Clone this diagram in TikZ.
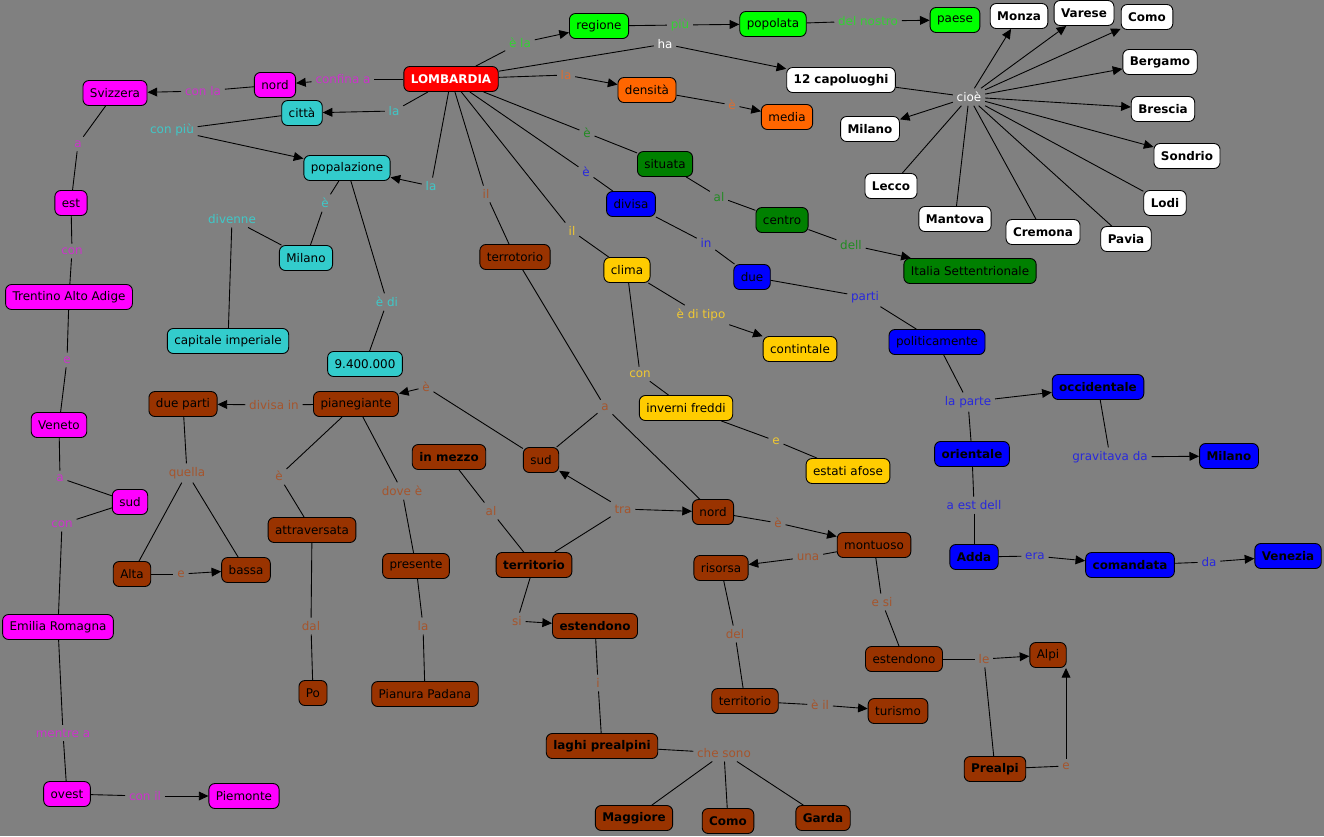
\documentclass[tikz,border=0pt]{standalone}
\usepackage{fontspec}
\setmainfont{DejaVu Sans}
\usepackage{xcolor}
\usepackage{tikz}
\usetikzlibrary{arrows.meta}

\definecolor{bggray}{RGB}{128,128,128}
% concept fills
\definecolor{cmMag}{RGB}{255,0,255}
\definecolor{cmCyan}{RGB}{51,204,204}
\definecolor{cmLime}{RGB}{0,255,0}
\definecolor{cmOrange}{RGB}{255,102,0}
\definecolor{cmGreen}{RGB}{0,128,0}
\definecolor{cmBlue}{RGB}{0,0,255}
\definecolor{cmYellow}{RGB}{255,204,0}
\definecolor{cmBrown}{RGB}{153,51,0}
\definecolor{cmRed}{RGB}{255,0,0}
% link words
\definecolor{lbMag}{RGB}{204,51,204}
\definecolor{lbCyan}{RGB}{64,200,200}
\definecolor{lbLime}{RGB}{51,210,51}
\definecolor{lbOrange}{RGB}{220,110,50}
\definecolor{lbGreen}{RGB}{34,139,34}
\definecolor{lbBlue}{RGB}{40,40,220}
\definecolor{lbYellow}{RGB}{240,200,50}
\definecolor{lbBrown}{RGB}{165,85,45}

\begin{document}
\begin{tikzpicture}[
    x=0.02cm,y=-0.02cm,
    txt/.style={font={\fontsize{6.8}{8}\selectfont}},
    concept/.style={txt,draw=black,line width=0.5pt,rounded corners=0.12cm,
        minimum height=0.5cm,inner xsep=0.14cm,inner ysep=1pt,text=black},
    strong/.style={font={\fontsize{6.8}{8}\selectfont\bfseries}},
    magbox/.style={concept,fill=cmMag},
    cyanbox/.style={concept,fill=cmCyan},
    limebox/.style={concept,fill=cmLime},
    orangebox/.style={concept,fill=cmOrange},
    whitebox/.style={concept,fill=white,strong},
    greenbox/.style={concept,fill=cmGreen},
    bluebox/.style={concept,fill=cmBlue},
    yellowbox/.style={concept,fill=cmYellow},
    brownbox/.style={concept,fill=cmBrown},
    redbox/.style={concept,fill=cmRed,strong,text=white},
    lbl/.style={txt,inner sep=2pt},
    maglbl/.style={lbl,text=lbMag},
    cyanlbl/.style={lbl,text=lbCyan},
    limelbl/.style={lbl,text=lbLime},
    whitelbl/.style={lbl,text=white},
    orangelbl/.style={lbl,text=lbOrange},
    greenlbl/.style={lbl,text=lbGreen},
    bluelbl/.style={lbl,text=lbBlue},
    yellowlbl/.style={lbl,text=lbYellow},
    brownlbl/.style={lbl,text=lbBrown},
    line/.style={draw=black,line width=0.5pt},
    arr/.style={line,-{Triangle[length=5.5pt,width=5pt]}},
    ]
    % Background
    \path[use as bounding box,fill=bggray] (0,0) rectangle (1324,836);

    % Main concept
    \node[redbox] (lomb) at (451,79) {LOMBARDIA};

    % Borders
    \node[magbox] (nordA) at (275,85) {nord};
    \node[magbox] (svizzera) at (115,93) {Svizzera};
    \node[magbox] (est) at (71,203) {est};
    \node[magbox] (trentino) at (69,297) {Trentino Alto Adige};
    \node[magbox] (veneto) at (59,425) {Veneto};
    \node[magbox] (sudA) at (130,502) {sud};
    \node[magbox] (emilia) at (58,627) {Emilia Romagna};
    \node[magbox] (ovest) at (67,794) {ovest};
    \node[magbox] (piemonte) at (244,796) {Piemonte};
    \node[maglbl] (lConfina) at (343,79) {confina a};
    \node[maglbl] (lConLa) at (203,91) {con la};
    \node[maglbl] (lA1) at (78,144) {a};
    \node[maglbl] (lCon1) at (72,251) {con};
    \node[maglbl] (lE1) at (67,360) {e};
    \node[maglbl] (lA2) at (60,478) {a};
    \node[maglbl] (lCon2) at (62,524) {con};
    \node[maglbl] (lMentre) at (63,733) {mentre a};
    \node[maglbl] (lConIl) at (145,796) {con il};
    \draw[line] (lomb) -- (lConfina);
    \draw[arr] (lConfina) -- (nordA);
    \draw[line] (nordA) -- (lConLa);
    \draw[arr] (lConLa) -- (svizzera);
    \draw[line] (svizzera) -- (lA1);
    \draw[line] (lA1) -- (est);
    \draw[line] (est) -- (lCon1);
    \draw[line] (lCon1) -- (trentino);
    \draw[line] (trentino) -- (lE1);
    \draw[line] (lE1) -- (veneto);
    \draw[line] (veneto) -- (lA2);
    \draw[line] (lA2) -- (sudA);
    \draw[line] (sudA) -- (lCon2);
    \draw[line] (lCon2) -- (emilia);
    \draw[line] (emilia) -- (lMentre);
    \draw[line] (lMentre) -- (ovest);
    \draw[line] (ovest) -- (lConIl);
    \draw[arr] (lConIl) -- (piemonte);

    % Cities and population
    \node[cyanbox] (citta) at (302,113) {città};
    \node[cyanbox] (popol) at (347,168) {popalazione};
    \node[cyanbox] (milanoC) at (306,258) {Milano};
    \node[cyanbox] (capitale) at (228,341) {capitale imperiale};
    \node[cyanbox] (abitanti) at (365,364) {9.400.000};
    \node[cyanlbl] (lLa1) at (394,111) {la};
    \node[cyanlbl] (lConPiu) at (172,130) {con più};
    \node[cyanlbl] (lLa2) at (431,186) {la};
    \node[cyanlbl] (lE2) at (325,203) {è};
    \node[cyanlbl] (lDivenne) at (232,219) {divenne};
    \node[cyanlbl] (lEDi) at (387,302) {è di};
    \draw[line] (lomb) -- (lLa1);
    \draw[arr] (lLa1) -- (citta);
    \draw[line] (citta) -- (lConPiu);
    \draw[arr] (lConPiu) -- (popol);
    \draw[line] (lomb) -- (lLa2);
    \draw[arr] (lLa2) -- (popol);
    \draw[line] (popol) -- (lE2);
    \draw[line] (lE2) -- (milanoC);
    \draw[line] (milanoC) -- (lDivenne);
    \draw[line] (lDivenne) -- (capitale);
    \draw[line] (popol) -- (lEDi);
    \draw[line] (lEDi) -- (abitanti);

    % Most populated region
    \node[limebox] (regione) at (599,26) {regione};
    \node[limebox] (popolata) at (773,24) {popolata};
    \node[limebox] (paese) at (955,20) {paese};
    \node[limelbl] (lELa) at (520,43) {è la};
    \node[limelbl] (lPiu) at (680,25) {più};
    \node[limelbl] (lDelNostro) at (868,21) {del nostro};
    \draw[line] (lomb) -- (lELa);
    \draw[arr] (lELa) -- (regione);
    \draw[line] (regione) -- (lPiu);
    \draw[arr] (lPiu) -- (popolata);
    \draw[line] (popolata) -- (lDelNostro);
    \draw[arr] (lDelNostro) -- (paese);

    % Density
    \node[orangebox] (densita) at (647,90) {densità};
    \node[orangebox] (media) at (787,117) {media};
    \node[orangelbl] (lLa3) at (566,75) {la};
    \node[orangelbl] (lE3) at (732,105) {è};
    \draw[line] (lomb) -- (lLa3);
    \draw[arr] (lLa3) -- (densita);
    \draw[line] (densita) -- (lE3);
    \draw[arr] (lE3) -- (media);

    % Provincial capitals
    \node[whitebox] (capoluoghi) at (841,80) {12 capoluoghi};
    \node[whitebox] (milanoW) at (870,129) {Milano};
    \node[whitebox] (monza) at (1019,16) {Monza};
    \node[whitebox] (varese) at (1084,13) {Varese};
    \node[whitebox] (comoW) at (1147,17) {Como};
    \node[whitebox] (bergamo) at (1160,62) {Bergamo};
    \node[whitebox] (brescia) at (1163,109) {Brescia};
    \node[whitebox] (sondrio) at (1187,156) {Sondrio};
    \node[whitebox] (lodi) at (1165,203) {Lodi};
    \node[whitebox] (pavia) at (1126,239) {Pavia};
    \node[whitebox] (cremona) at (1043,232) {Cremona};
    \node[whitebox] (mantova) at (955,219) {Mantova};
    \node[whitebox] (lecco) at (891,186) {Lecco};
    \node[whitelbl] (lHa) at (665,44) {ha};
    \node[whitelbl] (lCioe) at (969,97) {cioè};
    \draw[line] (lomb) -- (lHa);
    \draw[arr] (lHa) -- (capoluoghi);
    \draw[line] (capoluoghi) -- (lCioe);
    \foreach \city in {milanoW,monza,varese,comoW,bergamo,brescia,sondrio}
        \draw[arr] (lCioe) -- (\city);
    \foreach \city in {lecco,mantova,cremona,pavia,lodi}
        \draw[line] (lCioe) -- (\city);

    % Position
    \node[greenbox] (situata) at (665,164) {situata};
    \node[greenbox] (centro) at (782,220) {centro};
    \node[greenbox] (italia) at (970,271) {Italia Settentrionale};
    \node[greenlbl] (lE4) at (587,133) {è};
    \node[greenlbl] (lAl1) at (719,197) {al};
    \node[greenlbl] (lDell) at (851,245) {dell};
    \draw[line] (lomb) -- (lE4);
    \draw[line] (lE4) -- (situata);
    \draw[line] (situata) -- (lAl1);
    \draw[line] (lAl1) -- (centro);
    \draw[line] (centro) -- (lDell);
    \draw[arr] (lDell) -- (italia);

    % Political division
    \node[bluebox] (divisa) at (631,204) {divisa};
    \node[bluebox] (dueB) at (752,277) {due};
    \node[bluebox] (politic) at (937,342) {politicamente};
    \node[bluebox,strong] (occid) at (1098,387) {occidentale};
    \node[bluebox,strong] (orient) at (972,454) {orientale};
    \node[bluebox,strong] (milanoB) at (1229,456) {Milano};
    \node[bluebox,strong] (adda) at (974,557) {Adda};
    \node[bluebox,strong] (comand) at (1130,565) {comandata};
    \node[bluebox,strong] (venezia) at (1288,556) {Venezia};
    \node[bluelbl] (lE5) at (586,172) {è};
    \node[bluelbl] (lIn) at (706,243) {in};
    \node[bluelbl] (lParti) at (865,297) {parti};
    \node[bluelbl] (lLaParte) at (968,402) {la parte};
    \node[bluelbl] (lGravitava) at (1110,457) {gravitava da};
    \node[bluelbl] (lEstDell) at (974,505) {a est dell};
    \node[bluelbl] (lEra) at (1035,556) {era};
    \node[bluelbl] (lDa) at (1209,562) {da};
    \draw[line] (lomb) -- (lE5);
    \draw[line] (lE5) -- (divisa);
    \draw[line] (divisa) -- (lIn);
    \draw[line] (lIn) -- (dueB);
    \draw[line] (dueB) -- (lParti);
    \draw[line] (lParti) -- (politic);
    \draw[line] (politic) -- (lLaParte);
    \draw[arr] (lLaParte) -- (occid);
    \draw[line] (lLaParte) -- (orient);
    \draw[line] (occid) -- (lGravitava);
    \draw[arr] (lGravitava) -- (milanoB);
    \draw[line] (orient) -- (lEstDell);
    \draw[line] (lEstDell) -- (adda);
    \draw[line] (adda) -- (lEra);
    \draw[arr] (lEra) -- (comand);
    \draw[line] (comand) -- (lDa);
    \draw[arr] (lDa) -- (venezia);

    % Climate
    \node[yellowbox] (clima) at (627,270) {clima};
    \node[yellowbox] (contin) at (800,349) {contintale};
    \node[yellowbox] (inverni) at (686,408) {inverni freddi};
    \node[yellowbox] (estati) at (848,471) {estati afose};
    \node[yellowlbl] (lIl2) at (572,231) {il};
    \node[yellowlbl] (lDiTipo) at (701,315) {è di tipo};
    \node[yellowlbl] (lCon3) at (640,374) {con};
    \node[yellowlbl] (lE6) at (776,441) {e};
    \draw[line] (lomb) -- (lIl2);
    \draw[line] (lIl2) -- (clima);
    \draw[line] (clima) -- (lDiTipo);
    \draw[arr] (lDiTipo) -- (contin);
    \draw[line] (clima) -- (lCon3);
    \draw[line] (lCon3) -- (inverni);
    \draw[line] (inverni) -- (lE6);
    \draw[line] (lE6) -- (estati);

    % Territory
    \node[brownbox] (terrot) at (515,257) {terrotorio};
    \node[brownbox] (sudB) at (541,460) {sud};
    \node[brownbox,strong] (inMezzo) at (449,457) {in mezzo};
    \node[brownbox] (nordB) at (713,512) {nord};
    \node[brownbox] (pianeg) at (356,404) {pianegiante};
    \node[brownbox] (dueParti) at (183,404) {due parti};
    \node[brownbox] (attrav) at (312,530) {attraversata};
    \node[brownbox] (alta) at (132,574) {Alta};
    \node[brownbox] (bassa) at (246,570) {bassa};
    \node[brownbox] (po) at (313,693) {Po};
    \node[brownbox] (presente) at (416,566) {presente};
    \node[brownbox] (pianura) at (425,694) {Pianura Padana};
    \node[brownbox,strong] (territB) at (534,565) {territorio};
    \node[brownbox,strong] (estendB) at (595,626) {estendono};
    \node[brownbox,strong] (laghi) at (602,746) {laghi prealpini};
    \node[brownbox,strong] (maggiore) at (634,818) {Maggiore};
    \node[brownbox,strong] (comoB) at (728,821) {Como};
    \node[brownbox,strong] (garda) at (823,818) {Garda};
    \node[brownbox] (montuoso) at (874,545) {montuoso};
    \node[brownbox] (risorsa) at (721,568) {risorsa};
    \node[brownbox] (territ2) at (745,701) {territorio};
    \node[brownbox] (turismo) at (898,711) {turismo};
    \node[brownbox] (estend2) at (904,659) {estendono};
    \node[brownbox] (alpi) at (1048,655) {Alpi};
    \node[brownbox,strong] (prealpi) at (995,769) {Prealpi};
    \node[brownlbl] (lIl1) at (486,194) {il};
    \node[brownlbl] (lA3) at (605,407) {a};
    \node[brownlbl] (lE7) at (426,387) {è};
    \node[brownlbl] (lDivisaIn) at (274,405) {divisa in};
    \node[brownlbl] (lQuella) at (187,473) {quella};
    \node[brownlbl] (lE8) at (181,574) {e};
    \node[brownlbl] (lE9) at (279,476) {è};
    \node[brownlbl] (lDal) at (311,626) {dal};
    \node[brownlbl] (lDove) at (402,491) {dove è};
    \node[brownlbl] (lLa4) at (423,626) {la};
    \node[brownlbl] (lAl2) at (491,511) {al};
    \node[brownlbl] (lTra) at (623,509) {tra};
    \node[brownlbl] (lSi) at (517,621) {si};
    \node[brownlbl] (lI) at (598,683) {i};
    \node[brownlbl] (lCheSono) at (724,753) {che sono};
    \node[brownlbl] (lE10) at (778,523) {è};
    \node[brownlbl] (lUna) at (808,557) {una};
    \node[brownlbl] (lDel) at (735,634) {del};
    \node[brownlbl] (lEIl) at (820,705) {è il};
    \node[brownlbl] (lESi) at (882,602) {e si};
    \node[brownlbl] (lLe) at (984,659) {le};
    \node[brownlbl] (lE11) at (1066,766) {e};
    \draw[line] (lomb) -- (lIl1);
    \draw[line] (lIl1) -- (terrot);
    \draw[line] (terrot) -- (lA3);
    \draw[line] (lA3) -- (sudB);
    \draw[line] (lA3) -- (nordB);
    \draw[line] (sudB) -- (lE7);
    \draw[arr] (lE7) -- (pianeg);
    \draw[line] (pianeg) -- (lDivisaIn);
    \draw[arr] (lDivisaIn) -- (dueParti);
    \draw[line] (dueParti) -- (lQuella);
    \draw[line] (lQuella) -- (alta);
    \draw[line] (lQuella) -- (bassa);
    \draw[line] (alta) -- (lE8);
    \draw[arr] (lE8) -- (bassa);
    \draw[line] (pianeg) -- (lE9);
    \draw[line] (lE9) -- (attrav);
    \draw[line] (attrav) -- (lDal);
    \draw[line] (lDal) -- (po);
    \draw[line] (pianeg) -- (lDove);
    \draw[line] (lDove) -- (presente);
    \draw[line] (presente) -- (lLa4);
    \draw[line] (lLa4) -- (pianura);
    \draw[line] (inMezzo) -- (lAl2);
    \draw[line] (lAl2) -- (territB);
    \draw[line] (territB) -- (lTra);
    \draw[arr] (lTra) -- (sudB);
    \draw[arr] (lTra) -- (nordB);
    \draw[line] (territB) -- (lSi);
    \draw[arr] (lSi) -- (estendB);
    \draw[line] (estendB) -- (lI);
    \draw[line] (lI) -- (laghi);
    \draw[line] (laghi) -- (lCheSono);
    \foreach \lake in {maggiore,comoB,garda}
        \draw[line] (lCheSono) -- (\lake);
    \draw[line] (nordB) -- (lE10);
    \draw[arr] (lE10) -- (montuoso);
    \draw[line] (montuoso) -- (lUna);
    \draw[arr] (lUna) -- (risorsa);
    \draw[line] (risorsa) -- (lDel);
    \draw[line] (lDel) -- (territ2);
    \draw[line] (territ2) -- (lEIl);
    \draw[arr] (lEIl) -- (turismo);
    \draw[line] (montuoso) -- (lESi);
    \draw[line] (lESi) -- (estend2);
    \draw[line] (estend2) -- (lLe);
    \draw[arr] (lLe) -- (alpi);
    \draw[line] (lLe) -- (prealpi);
    \draw[line] (prealpi) -- (lE11);
    \draw[arr] (lE11) -- (lE11 |- alpi.south);
\end{tikzpicture}
\end{document}
